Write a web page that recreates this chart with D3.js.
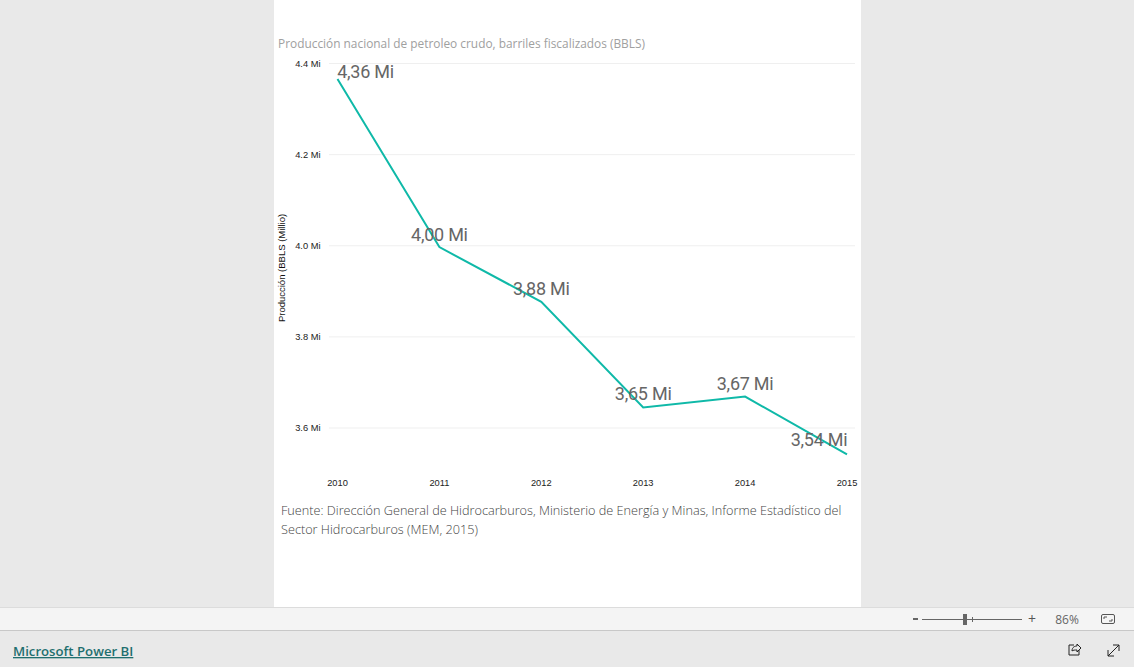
<!DOCTYPE html>
<html><head><meta charset="utf-8">
<style>html,body{margin:0;padding:0;background:#e9e9e9;overflow:hidden}svg{display:block}</style>
<script src="https://cdn.jsdelivr.net/npm/d3@7"></script></head>
<body><svg id="c" width="1134" height="667"></svg>
<script>
const years=[2010,2011,2012,2013,2014,2015];
const values=[4.366,3.997,3.877,3.645,3.669,3.542];
const dataLabels=["4,36 Mi","4,00 Mi","3,88 Mi","3,65 Mi","3,67 Mi","3,54 Mi"];
const yTicks=[4.4,4.2,4.0,3.8,3.6];
const sourceLines=["Fuente: Dirección General de Hidrocarburos, Ministerio de Energía y Minas, Informe Estadístico del","Sector Hidrocarburos (MEM, 2015)"];
const labelOffsets=[[28,-1],[0,-6],[0,-7],[0,-7],[0,-7],[-28,-8]];
const svg=d3.select("#c");
const body="'Open Sans',sans-serif", din="Roboto,sans-serif", small="'Liberation Sans',sans-serif";
svg.append("rect").attr("x",0).attr("y",0).attr("width",1134).attr("height",667).attr("fill","#e9e9e9");
svg.append("rect").attr("x",274).attr("y",0).attr("width",587).attr("height",607).attr("fill","#fff");
const x=d3.scalePoint().domain(years).range([337.5,847]);
const y=d3.scaleLinear().domain([3.6,4.4]).range([428,63.5]);
svg.append("text").attr("x",278).attr("y",48).attr("font-family",body).attr("font-size",11.88).attr("fill","#a0a0a0").text("Producción nacional de petroleo crudo, barriles fiscalizados (BBLS)");
svg.append("g").selectAll("line").data(yTicks).join("line").attr("x1",329).attr("x2",855).attr("y1",d=>y(d)).attr("y2",d=>y(d)).attr("stroke","#efefef");
svg.append("g").selectAll("text").data(yTicks).join("text").attr("x",320.5).attr("y",d=>y(d)+3).attr("text-anchor","end").attr("font-family",small).attr("font-size",9.3).attr("fill","#222").text(d=>d.toFixed(1)+" Mi");
svg.append("g").selectAll("text").data(years).join("text").attr("x",d=>x(d)).attr("y",486).attr("text-anchor","middle").attr("font-family",small).attr("font-size",9.3).attr("fill","#222").text(d=>d);
svg.append("text").attr("transform","translate(285,268) rotate(-90)").attr("text-anchor","middle").attr("font-family",small).attr("font-size",9.5).attr("fill","#111").text("Producción (BBLS (Millio)");
const line=d3.line().x((d,i)=>x(years[i])).y(d=>y(d));
svg.append("path").attr("d",line(values)).attr("fill","none").attr("stroke","#0fb9a8").attr("stroke-width",2);
svg.append("g").selectAll("text").data(dataLabels).join("text")
 .attr("x",(d,i)=>x(years[i])+labelOffsets[i][0]).attr("y",(d,i)=>y(values[i])+labelOffsets[i][1])
 .attr("text-anchor","middle").attr("font-family",din).attr("font-size",18).attr("letter-spacing",-0.25).attr("fill","#666").text(d=>d);
svg.append("g").selectAll("text").data(sourceLines).join("text").attr("x",281).attr("y",(d,i)=>515+i*19).attr("font-family",body).attr("font-weight",300).attr("font-size",12.7).attr("fill","#444").text(d=>d);
// footer
svg.append("rect").attr("x",0).attr("y",607).attr("width",1134).attr("height",24).attr("fill","#f4f4f4");
svg.append("line").attr("x1",0).attr("x2",1134).attr("y1",607.5).attr("y2",607.5).attr("stroke","#dcdcdc");
svg.append("line").attr("x1",0).attr("x2",1134).attr("y1",630.5).attr("y2",630.5).attr("stroke","#c8c8c8");
svg.append("rect").attr("x",913).attr("y",618).attr("width",5).attr("height",2).attr("fill","#666");
svg.append("line").attr("x1",922).attr("x2",1022).attr("y1",619.5).attr("y2",619.5).attr("stroke","#666");
svg.append("rect").attr("x",963).attr("y",614).attr("width",4).attr("height",11).attr("fill","#666");
svg.append("line").attr("x1",972.5).attr("x2",972.5).attr("y1",617).attr("y2",622).attr("stroke","#666");
svg.append("text").attr("x",1032).attr("y",624).attr("text-anchor","middle").attr("font-family",body).attr("font-size",14).attr("fill","#555").text("+");
svg.append("text").attr("x",1067).attr("y",623.5).attr("text-anchor","middle").attr("font-family",body).attr("font-size",12).attr("fill","#666").text("86%");
svg.append("rect").attr("x",1101.5).attr("y",614.5).attr("width",13).attr("height",9).attr("rx",1.5).attr("fill","none").attr("stroke","#555");
svg.append("path").attr("d","M1104 619V617H1107M1112 619V621H1109").attr("fill","none").attr("stroke","#555");
svg.append("text").attr("x",13).attr("y",656).attr("font-family",body).attr("font-size",13.2).attr("font-weight",600).attr("fill","#1f6f6f").attr("text-decoration","underline").text("Microsoft Power BI");
svg.append("path").attr("d","M1074 645H1069V655H1079V650M1072 651C1072 647 1075 646 1077 646V644L1081 648L1077 652V650C1075 650 1073 650 1072 651Z").attr("fill","none").attr("stroke","#222");
svg.append("path").attr("d","M1108 656L1119 645M1113 645H1119V651M1108 650V656H1114").attr("fill","none").attr("stroke","#222");
</script></body></html>
